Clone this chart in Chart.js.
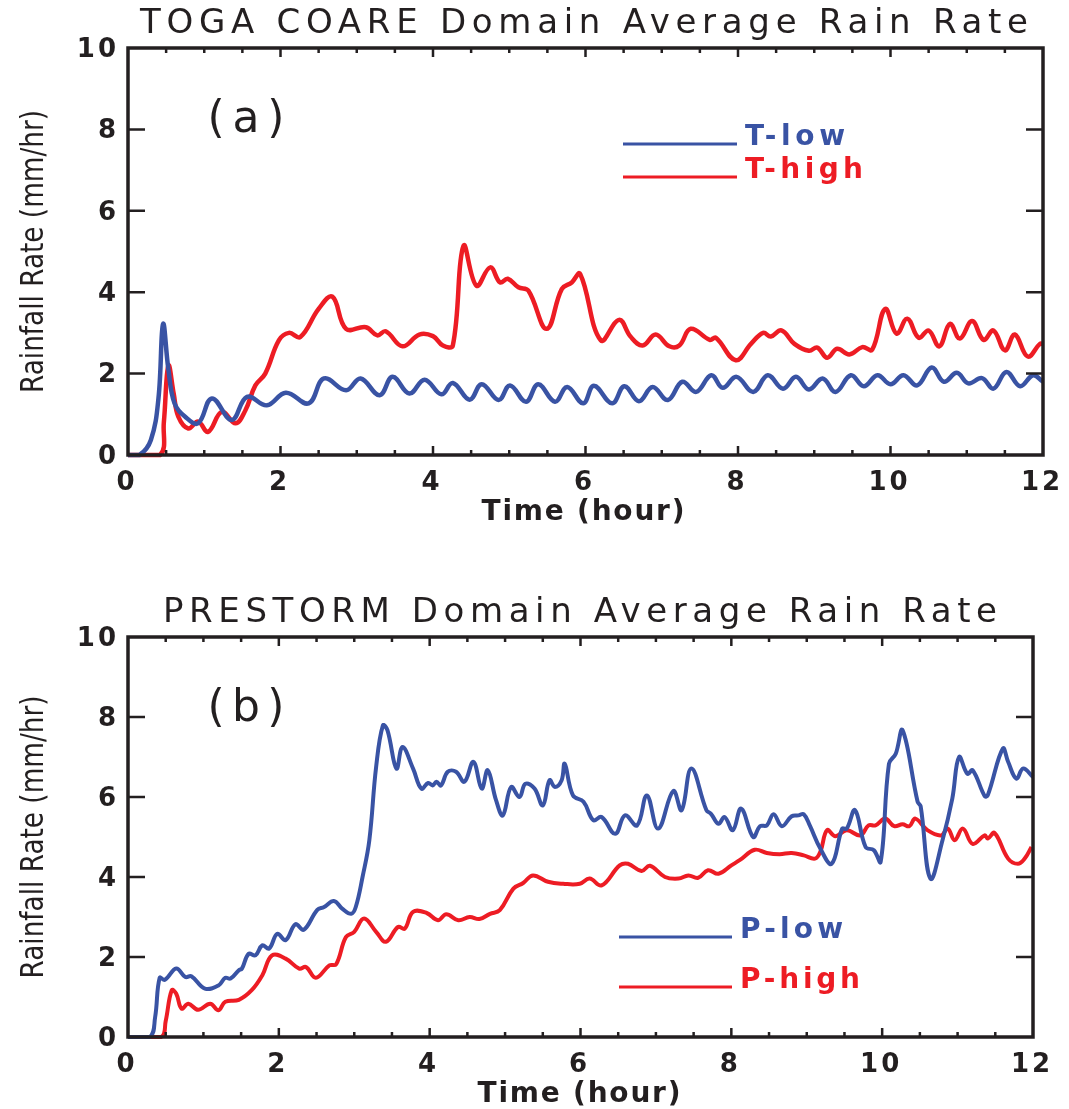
<!DOCTYPE html>
<html>
<head>
<meta charset="utf-8">
<script src="https://cdn.jsdelivr.net/npm/chart.js@4.4.1/dist/chart.umd.min.js"></script>
<style>
  html, body { margin: 0; padding: 0; background: #fff; }
  #wrap { position: relative; width: 1069px; height: 1109px; }
  canvas { position: absolute; left: 0; }
  #chartA { top: 0; }
  #chartB { top: 560px; }
</style>
</head>
<body>
<div id="wrap">
  <canvas id="chartA" width="1069" height="560"></canvas>
  <canvas id="chartB" width="1069" height="549"></canvas>
</div>
<script>
// axis ticks
const xTicks = [0, 2, 4, 6, 8, 10, 12];
const yTicks = [0, 2, 4, 6, 8, 10];

// (a) TOGA COARE - T-low
const tLowHour = [0, 0.15, 0.3, 0.4, 0.46, 0.53, 0.61, 0.75, 0.92, 1.1, 1.36, 1.56, 1.82, 2.07, 2.37, 2.57, 2.86, 3.05, 3.3, 3.47, 3.69, 3.89,
  4.11, 4.26, 4.48, 4.64, 4.86, 5.01, 5.22, 5.38, 5.6, 5.76, 5.97, 6.11, 6.35, 6.51, 6.7, 6.88, 7.08, 7.27, 7.45, 7.65, 7.8, 7.98,
  8.2, 8.39, 8.59, 8.76, 8.93, 9.11, 9.28, 9.48, 9.65, 9.83, 10.0, 10.17, 10.35, 10.54, 10.7, 10.87, 11.02, 11.2, 11.35, 11.52, 11.7, 11.87, 12];
const tLowRate = [0, 0, 0.37, 1.4, 3.22, 2.1, 1.27, 0.94, 0.78, 1.39, 0.86, 1.43, 1.22, 1.53, 1.27, 1.88, 1.59, 1.88, 1.47, 1.92, 1.51, 1.85,
  1.49, 1.77, 1.36, 1.74, 1.35, 1.71, 1.31, 1.74, 1.31, 1.67, 1.27, 1.7, 1.27, 1.69, 1.32, 1.67, 1.35, 1.8, 1.55, 1.96, 1.65, 1.92,
  1.55, 1.96, 1.63, 1.92, 1.61, 1.88, 1.55, 1.96, 1.69, 1.96, 1.74, 1.96, 1.71, 2.15, 1.8, 2.02, 1.76, 1.89, 1.63, 2.04, 1.69, 1.96, 1.8];

// (a) TOGA COARE - T-high
const tHighHour = [0, 0.42, 0.47, 0.53, 0.6, 0.66, 0.79, 0.92, 1.05, 1.23, 1.41, 1.54, 1.67, 1.8, 1.98, 2.11, 2.26, 2.5, 2.68, 2.86,
  3.12, 3.27, 3.38, 3.6, 3.82, 4.0, 4.13, 4.26, 4.4, 4.57, 4.75, 4.88, 4.98, 5.12, 5.25, 5.49, 5.69, 5.82, 5.93, 6.2, 6.44, 6.59,
  6.75, 6.92, 7.1, 7.23, 7.38, 7.63, 7.71, 7.97, 8.17, 8.33, 8.43, 8.57, 8.74, 8.93, 9.04, 9.17, 9.3, 9.46, 9.63, 9.76, 9.93,
  10.08, 10.22, 10.37, 10.5, 10.64, 10.78, 10.91, 11.07, 11.22, 11.35, 11.5, 11.63, 11.8, 11.96, 12];
const tHighRate = [0, 0, 0.8, 2.2, 1.5, 0.94, 0.65, 0.82, 0.57, 1.06, 0.78, 1.1, 1.71, 2.0, 2.82, 3.0, 2.9, 3.59, 3.89, 3.1,
  3.14, 2.94, 3.04, 2.67, 2.96, 2.92, 2.69, 2.69, 5.14, 4.16, 4.61, 4.24, 4.33, 4.12, 4.04, 3.1, 4.08, 4.24, 4.45, 2.82, 3.32, 2.91,
  2.69, 2.96, 2.67, 2.69, 3.1, 2.83, 2.88, 2.33, 2.73, 3.0, 2.91, 3.06, 2.73, 2.56, 2.64, 2.39, 2.61, 2.47, 2.65, 2.59, 3.59,
  2.98, 3.35, 2.88, 3.06, 2.67, 3.22, 2.86, 3.29, 2.83, 3.06, 2.57, 2.96, 2.42, 2.73, 2.73];

// (b) PRESTORM - P-low
const pLowHour = [0, 0.29, 0.36, 0.42, 0.49, 0.64, 0.76, 0.84, 1.02, 1.2, 1.29, 1.36, 1.47, 1.51, 1.6, 1.69, 1.78, 1.87, 1.98, 2.09,
  2.22, 2.33, 2.51, 2.6, 2.73, 2.84, 2.96, 3.02, 3.11, 3.2, 3.29, 3.38, 3.44, 3.56, 3.64, 3.78, 3.89, 3.98, 4.04, 4.09, 4.15, 4.24,
  4.35, 4.46, 4.58, 4.69, 4.77, 4.88, 4.97, 5.08, 5.19, 5.27, 5.39, 5.5, 5.59, 5.66, 5.75, 5.79, 5.9, 6.04, 6.17, 6.28, 6.46, 6.59,
  6.75, 6.88, 7.03, 7.23, 7.34, 7.47, 7.67, 7.73, 7.83, 7.91, 8.02, 8.13, 8.29, 8.38, 8.47, 8.56, 8.67, 8.8, 8.89, 8.96, 9.04, 9.18,
  9.33, 9.47, 9.53, 9.64, 9.78, 9.89, 9.98, 10.09, 10.18, 10.27, 10.47, 10.51, 10.64, 10.8, 10.93, 11.02, 11.13, 11.2, 11.36, 11.4,
  11.6, 11.67, 11.78, 11.87, 12];
const pLowRate = [0, 0, 0.5, 1.48, 1.43, 1.71, 1.5, 1.52, 1.21, 1.29, 1.48, 1.46, 1.67, 1.71, 2.08, 2.04, 2.29, 2.21, 2.58, 2.42,
  2.82, 2.68, 3.18, 3.25, 3.4, 3.21, 3.08, 3.25, 4.0, 4.92, 6.75, 7.79, 7.67, 6.71, 7.25, 6.71, 6.21, 6.35, 6.29, 6.38, 6.29, 6.63,
  6.63, 6.38, 6.88, 6.21, 6.67, 5.92, 5.54, 6.25, 6.0, 6.33, 6.21, 5.79, 6.42, 6.25, 6.42, 6.83, 6.04, 5.88, 5.42, 5.5, 5.08, 5.54,
  5.29, 6.04, 5.21, 6.15, 5.67, 6.71, 5.67, 5.58, 5.33, 5.5, 5.17, 5.71, 5.0, 5.27, 5.29, 5.57, 5.27, 5.52, 5.54, 5.57, 5.29, 4.71,
  4.33, 5.21, 5.21, 5.67, 4.75, 4.67, 4.38, 6.83, 7.08, 7.67, 5.88, 5.77, 3.96, 4.92, 5.96, 7.0, 6.58, 6.67, 6.02, 6.04,
  7.21, 6.88, 6.46, 6.71, 6.5];

// (b) PRESTORM - P-high
const pHighHour = [0, 0.44, 0.5, 0.58, 0.64, 0.71, 0.8, 0.93, 1.09, 1.2, 1.29, 1.47, 1.64, 1.78, 1.91, 2.09, 2.27, 2.36, 2.49, 2.67,
  2.76, 2.89, 3.0, 3.13, 3.29, 3.42, 3.58, 3.67, 3.78, 3.96, 4.11, 4.22, 4.38, 4.53, 4.66, 4.8, 4.93, 5.11, 5.24, 5.37, 5.57, 5.77,
  5.99, 6.12, 6.28, 6.52, 6.63, 6.81, 6.92, 7.12, 7.3, 7.43, 7.56, 7.69, 7.83, 8.0, 8.11, 8.31, 8.47, 8.64, 8.8, 8.96, 9.11, 9.18,
  9.27, 9.38, 9.53, 9.71, 9.82, 9.91, 10.04, 10.16, 10.27, 10.36, 10.44, 10.6, 10.78, 10.87, 10.96, 11.07, 11.2, 11.36, 11.4, 11.49,
  11.67, 11.8, 11.89, 11.98];
const pHighRate = [0, 0, 0.4, 1.17, 1.08, 0.71, 0.83, 0.68, 0.83, 0.67, 0.88, 0.93, 1.17, 1.54, 2.04, 1.96, 1.71, 1.75, 1.48, 1.79,
  1.82, 2.5, 2.63, 2.96, 2.63, 2.38, 2.75, 2.71, 3.13, 3.1, 2.92, 3.07, 2.92, 3.0, 2.95, 3.08, 3.17, 3.71, 3.85, 4.04, 3.88, 3.83,
  3.83, 3.96, 3.79, 4.29, 4.33, 4.15, 4.28, 4.0, 3.96, 4.04, 3.98, 4.17, 4.08, 4.29, 4.42, 4.68, 4.6, 4.57, 4.6, 4.54, 4.46, 4.63,
  5.17, 5.02, 5.17, 5.04, 5.29, 5.29, 5.46, 5.27, 5.32, 5.27, 5.46, 5.17, 5.04, 5.21, 4.92, 5.21, 4.83, 5.04, 4.96, 5.1,
  4.46, 4.33, 4.46, 4.75];

const blue = '#3953a4';
const red = '#ed1c24';
const ink = '#231f20';
const FONT = '"DejaVu Sans", sans-serif';

function pts(xs, ys) {
  return xs.map((h, i) => ({ x: h, y: ys[i] }));
}

// draw text stretched (letter spacing) or squeezed to a given ink width
function fitText(ctx, text, cx, baseY, width, font, color, vertical) {
  ctx.save();
  ctx.font = font;
  ctx.fillStyle = color;
  ctx.textAlign = 'left';
  ctx.textBaseline = 'alphabetic';
  ctx.letterSpacing = '0px';
  const w = ctx.measureText(text).width;
  ctx.translate(cx, baseY);
  if (vertical) ctx.rotate(-Math.PI / 2);
  if (width > w && text.length > 1) {
    ctx.letterSpacing = ((width - w) / (text.length - 1)) + 'px';
    ctx.fillText(text, -width / 2, 0);
  } else {
    ctx.scale(width / w, 1);
    ctx.fillText(text, -w / 2, 0);
  }
  ctx.restore();
}

const decor = {
  id: 'decor',
  afterDraw(chart, args, o) {
    const { ctx, chartArea: a } = chart;
    const x = chart.scales.x, y = chart.scales.y;
    ctx.save();
    ctx.strokeStyle = ink;
    ctx.lineCap = 'butt';

    // inward ticks, every half hour on x, major values on y
    ctx.lineWidth = 2.5;
    ctx.beginPath();
    for (let h = 0.5; h < 12; h += 0.5) {
      const px = x.getPixelForValue(h);
      const len = h % 2 === 0 ? 9 : 5;
      ctx.moveTo(px, a.bottom); ctx.lineTo(px, a.bottom - len);
      ctx.moveTo(px, a.top); ctx.lineTo(px, a.top + len);
    }
    yTicks.slice(1, -1).forEach(v => {
      const py = y.getPixelForValue(v);
      ctx.moveTo(a.left, py); ctx.lineTo(a.left + 17, py);
      ctx.moveTo(a.right, py); ctx.lineTo(a.right - 17, py);
    });
    ctx.stroke();

    // frame
    ctx.lineWidth = 3.5;
    ctx.strokeRect(a.left, a.top, a.right - a.left, a.bottom - a.top);

    // tick labels
    ctx.fillStyle = ink;
    ctx.font = 'bold 26px ' + FONT;
    ctx.letterSpacing = '3px';
    ctx.textAlign = 'right';
    ctx.textBaseline = 'middle';
    yTicks.forEach(v => {
      ctx.fillText(String(v), a.left - 9, y.getPixelForValue(v) + 2);
    });
    ctx.textAlign = 'center';
    xTicks.forEach(v => {
      ctx.fillText(String(v), x.getPixelForValue(v) - 1, a.bottom + 28);
    });
    ctx.restore();

    // titles
    fitText(ctx, o.title, o.titleX, o.titleY, o.titleW, '34px ' + FONT, ink, false);
    fitText(ctx, 'Time (hour)', o.xTitleX, a.bottom + 65, 203, 'bold 28px ' + FONT, ink, false);
    fitText(ctx, 'Rainfall Rate (mm/hr)', 43, (a.top + a.bottom) / 2, 283, '32px ' + FONT, ink, true);
    fitText(ctx, o.tag, 246, o.tagY, 77, '44px ' + FONT, ink, false);

    // legend
    o.legend.forEach(l => {
      ctx.save();
      ctx.strokeStyle = l.color;
      ctx.lineWidth = 3;
      ctx.beginPath();
      ctx.moveTo(o.legX0, l.y); ctx.lineTo(o.legX1, l.y);
      ctx.stroke();
      ctx.restore();
      fitText(ctx, l.text, o.legTextX + l.w / 2, l.y + 1, l.w, 'bold 28px ' + FONT, l.color, false);
    });
  }
};

function makePanel(id, datasets, pad, lineW, opts) {
  return new Chart(document.getElementById(id), {
    type: 'line',
    data: {
      datasets: datasets.map(d => ({
        label: d.label,
        data: d.data,
        borderColor: d.color,
        borderWidth: lineW,
        pointRadius: 0,
        tension: 0.4,
        fill: false,
        clip: 4
      }))
    },
    options: {
      responsive: false,
      animation: false,
      devicePixelRatio: 1,
      layout: { padding: pad },
      scales: {
        x: { type: 'linear', min: 0, max: 12, display: false },
        y: { type: 'linear', min: 0, max: 10, display: false }
      },
      plugins: {
        legend: { display: false },
        tooltip: { enabled: false },
        decor: opts
      }
    },
    plugins: [decor]
  });
}

makePanel('chartA', [
  { label: 'T-low', data: pts(tLowHour, tLowRate), color: blue },
  { label: 'T-high', data: pts(tHighHour, tHighRate), color: red }
], { left: 128, top: 48, right: 26, bottom: 105 }, 4.5, {
  title: 'TOGA COARE Domain Average Rain Rate', titleX: 584, titleY: 33, titleW: 888,
  xTitleX: 583, tag: '(a)', tagY: 132,
  legX0: 623, legX1: 737, legTextX: 745,
  legend: [
    { text: 'T-low', y: 144, w: 100, color: blue },
    { text: 'T-high', y: 177, w: 118, color: red }
  ]
});

makePanel('chartB', [
  { label: 'P-low', data: pts(pLowHour, pLowRate), color: blue },
  { label: 'P-high', data: pts(pHighHour, pHighRate), color: red }
], { left: 128, top: 77, right: 36, bottom: 72 }, 4, {
  title: 'PRESTORM Domain Average Rain Rate', titleX: 580, titleY: 62, titleW: 834,
  xTitleX: 579, tag: '(b)', tagY: 161,
  legX0: 619, legX1: 732, legTextX: 740,
  legend: [
    { text: 'P-low', y: 377, w: 103, color: blue },
    { text: 'P-high', y: 427, w: 120, color: red }
  ]
});
</script>
</body>
</html>
